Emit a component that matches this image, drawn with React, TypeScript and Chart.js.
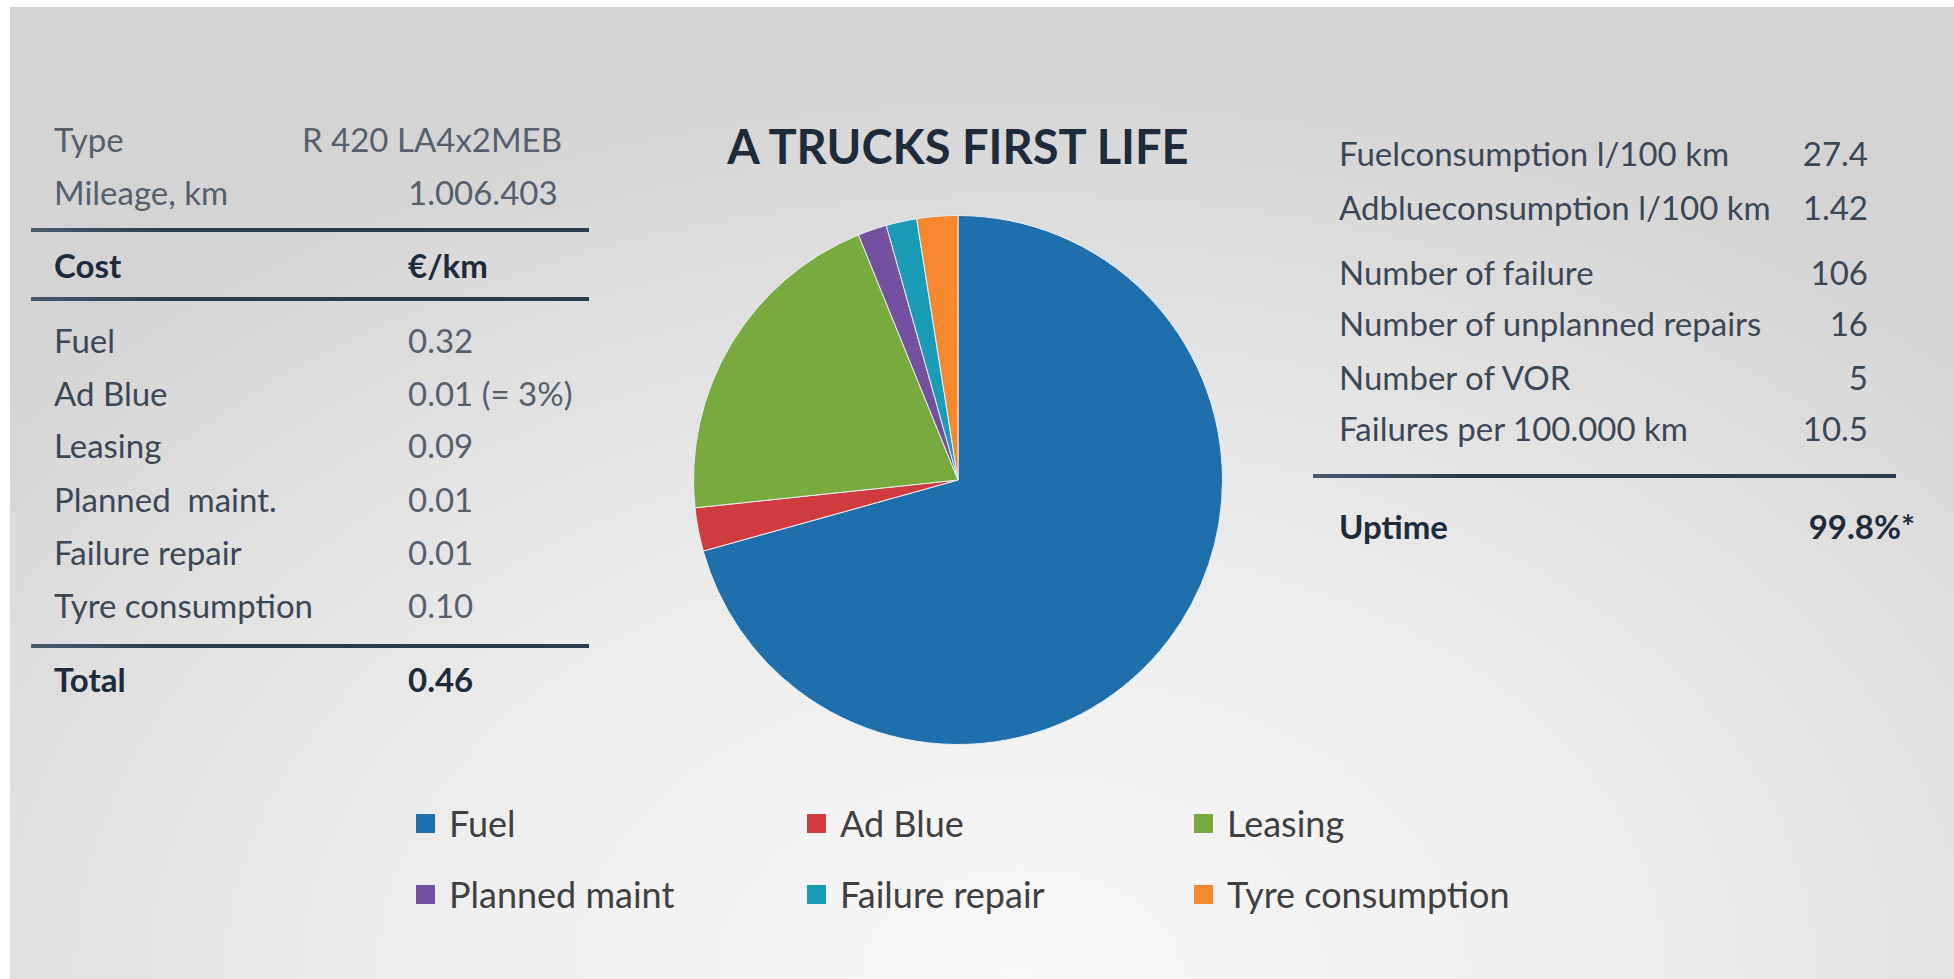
import React, { useEffect, useRef } from "react";
import { Chart, registerables } from "chart.js";

Chart.register(...registerables);

// ---- pie data (cost shares) ----
const categories = ["Fuel", "Ad Blue", "Leasing", "Planned maint", "Failure repair", "Tyre consumption"];
const shareValues = [0.32, 0.012, 0.093, 0.008, 0.0085, 0.0113];
const sliceColors = ["#1f6fad", "#cf3b3e", "#79aa3e", "#7451a0", "#1a9cb7", "#f5882e"];

// ---- left table ----
const headLabels = ["Type", "Mileage, km"];
const headValues = ["R 420 LA4x2MEB", "1.006.403"];
const costHeader = ["Cost", "€/km"];
const costLabels = ["Fuel", "Ad Blue", "Leasing", "Planned  maint.", "Failure repair", "Tyre consumption"];
const costValues = ["0.32", "0.01 (= 3%)", "0.09", "0.01", "0.01", "0.10"];
const totalRow = ["Total", "0.46"];

// ---- right table ----
const statLabels = [
  "Fuelconsumption l/100 km",
  "Adblueconsumption l/100 km",
  "Number of failure",
  "Number of unplanned repairs",
  "Number of VOR",
  "Failures per 100.000 km",
];
const statValues = ["27.4", "1.42", "106", "16", "5", "10.5"];
const uptimeRow = ["Uptime", "99.8%*"];

const titleText = "A TRUCKS FIRST LIFE";

const FONT = "Lato, 'Open Sans', sans-serif";
const TXT = "#3c4756";
const DARK = "#1d2b3b";

type TProps = {
  x: number;
  y: number;
  text: string;
  size?: number;
  weight?: number;
  color?: string;
  align?: "left" | "right";
};

function Txt({ x, y, text, size = 33, weight = 400, color = TXT, align = "left" }: TProps) {
  const lh = Math.round(size * 1.2);
  const style: React.CSSProperties = {
    position: "absolute",
    top: y - lh / 2,
    fontFamily: FONT,
    fontSize: size,
    fontWeight: weight,
    color,
    lineHeight: lh + "px",
    whiteSpace: "pre",
  };
  if (align === "left") style.left = x;
  else style.right = 1954 - x;
  return <div style={style}>{text}</div>;
}

function Rule({ x1, x2, y }: { x1: number; x2: number; y: number }) {
  return (
    <div
      style={{
        position: "absolute",
        left: x1,
        top: y - 2,
        width: x2 - x1,
        height: 4,
        background: "linear-gradient(to right, #4a5a6e 0%, #2c3c4f 25%, #2c3c4f 100%)",
      }}
    />
  );
}

export default function App() {
  const canvasRef = useRef<HTMLCanvasElement>(null);

  useEffect(() => {
    const chart = new Chart(canvasRef.current!, {
      type: "pie",
      data: {
        labels: categories,
        datasets: [
          {
            data: shareValues,
            backgroundColor: sliceColors,
            borderColor: "#e9eef3",
            borderWidth: 1,
          },
        ],
      },
      options: {
        animation: false,
        responsive: false,
        maintainAspectRatio: false,
        layout: { padding: 5 },
        plugins: {
          legend: { display: false },
          tooltip: { enabled: false },
          title: { display: false },
        },
      },
    });
    return () => chart.destroy();
  }, []);

  const headY = [139, 192];
  const costY = [340, 393, 445, 499, 552, 605];
  const statY = [153, 207, 272, 323, 377, 428];
  const legendCols = [416, 807, 1194];
  const legendRows = [823, 894];

  return (
    <div
      style={{
        position: "absolute",
        left: 0,
        top: 0,
        width: 1954,
        height: 979,
        background: "#ffffff",
        overflow: "hidden",
      }}
    >
      <div
        style={{
          position: "absolute",
          left: 10,
          top: 7,
          right: 0,
          bottom: 0,
          background:
            "radial-gradient(ellipse 70% 95% at 52% 100%, #f8f8f8 0%, #efefef 40%, #e0e0e0 75%, #d4d4d4 100%)",
        }}
      />

      {/* left table */}
      {headLabels.map((l, i) => (
        <Txt key={"hl" + i} x={54} y={headY[i]} text={l} color="#56606d" />
      ))}
      <Txt x={562} y={headY[0]} text={headValues[0]} align="right" color="#56606d" />
      <Txt x={408} y={headY[1]} text={headValues[1]} color="#56606d" />
      <Rule x1={31} x2={589} y={230} />
      <Txt x={54} y={265} text={costHeader[0]} weight={700} color={DARK} />
      <Txt x={408} y={265} text={costHeader[1]} weight={700} color={DARK} />
      <Rule x1={31} x2={589} y={299} />
      {costLabels.map((l, i) => (
        <Txt key={"cl" + i} x={54} y={costY[i]} text={l} />
      ))}
      {costValues.map((v, i) => (
        <Txt key={"cv" + i} x={408} y={costY[i]} text={v} color="#56606d" />
      ))}
      <Rule x1={31} x2={589} y={646} />
      <Txt x={54} y={679} text={totalRow[0]} weight={700} color={DARK} />
      <Txt x={408} y={679} text={totalRow[1]} weight={700} color={DARK} />

      {/* title */}
      <div
        style={{
          position: "absolute",
          left: 700,
          width: 516,
          top: 118,
          textAlign: "center",
          fontFamily: FONT,
          fontWeight: 700,
          fontSize: 47,
          lineHeight: "56px",
          color: DARK,
          whiteSpace: "pre",
        }}
      >
        {titleText}
      </div>

      {/* pie */}
      <canvas
        ref={canvasRef}
        width={540}
        height={540}
        style={{ position: "absolute", left: 688, top: 210, width: 540, height: 540 }}
      />

      {/* right table */}
      {statLabels.map((l, i) => (
        <Txt key={"sl" + i} x={1339} y={statY[i]} text={l} />
      ))}
      {statValues.map((v, i) => (
        <Txt key={"sv" + i} x={1868} y={statY[i]} text={v} align="right" />
      ))}
      <Rule x1={1313} x2={1896} y={476} />
      <Txt x={1339} y={526} text={uptimeRow[0]} weight={700} color={DARK} />
      <Txt x={1915} y={526} text={uptimeRow[1]} weight={700} color={DARK} align="right" />

      {/* legend */}
      {categories.map((c, i) => {
        const col = i % 3;
        const row = Math.floor(i / 3);
        const x = legendCols[col];
        const y = legendRows[row];
        return (
          <React.Fragment key={"lg" + i}>
            <div
              style={{
                position: "absolute",
                left: x,
                top: y - 9,
                width: 19,
                height: 19,
                background: sliceColors[i],
              }}
            />
            <Txt x={x + 33} y={y} text={c} size={36} color="#404040" />
          </React.Fragment>
        );
      })}
    </div>
  );
}
